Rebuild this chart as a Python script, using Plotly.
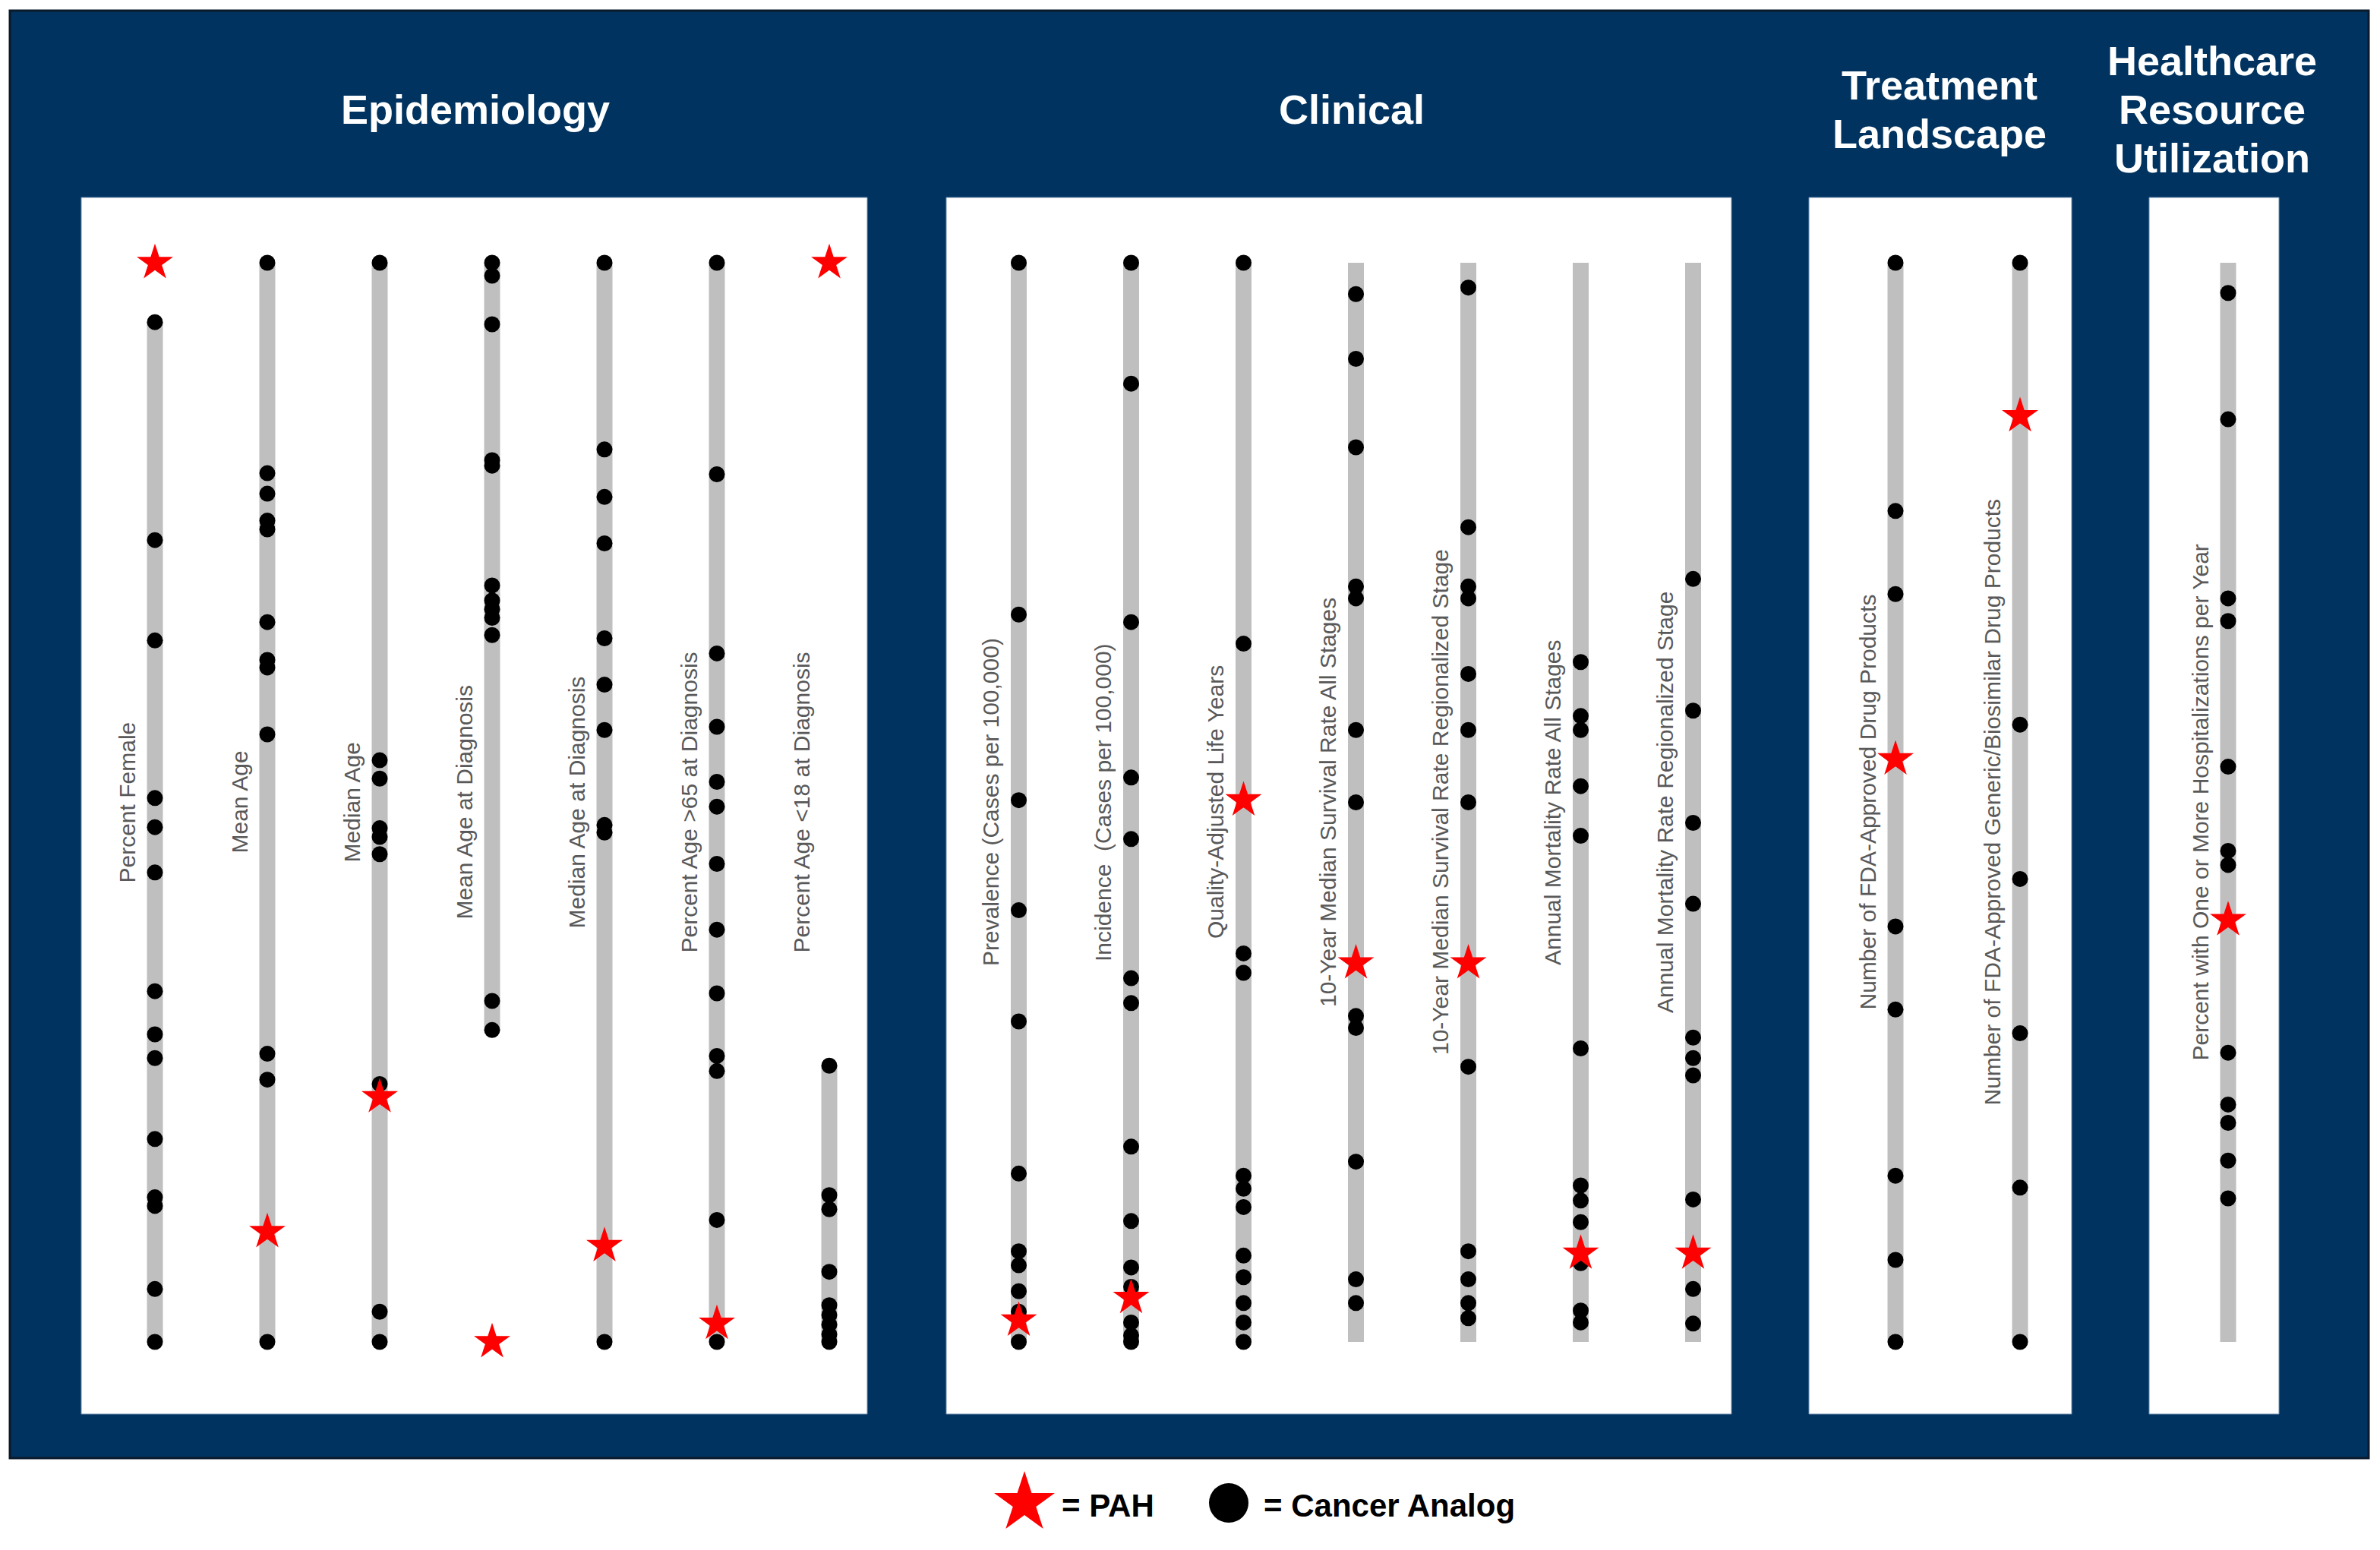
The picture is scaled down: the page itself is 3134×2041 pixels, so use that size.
import plotly.graph_objects as go

# ---------------- DATA (normalized position of each metric, 0 = bottom, 1 = top) ----------------
EPI_METRICS = [
    "Percent Female", "Mean Age", "Median Age", "Mean Age at Diagnosis",
    "Median Age at Diagnosis", "Percent Age >65 at Diagnosis", "Percent Age <18 at Diagnosis",
]
EPI_CANCER = [
    [0.945, 0.743, 0.650, 0.504, 0.477, 0.435, 0.325, 0.285, 0.263, 0.188, 0.134, 0.126, 0.049, 0.0],
    [1.0, 0.805, 0.786, 0.761, 0.753, 0.667, 0.632, 0.625, 0.563, 0.267, 0.243, 0.0],
    [1.0, 0.539, 0.522, 0.476, 0.468, 0.452, 0.239, 0.028, 0.0],
    [1.0, 0.988, 0.943, 0.817, 0.812, 0.701, 0.687, 0.679, 0.671, 0.655, 0.316, 0.289],
    [1.0, 0.827, 0.783, 0.740, 0.652, 0.609, 0.567, 0.479, 0.472, 0.0],
    [1.0, 0.804, 0.638, 0.570, 0.519, 0.496, 0.443, 0.382, 0.323, 0.265, 0.251, 0.113, 0.0],
    [0.256, 0.136, 0.123, 0.065, 0.034, 0.025, 0.016, 0.007, 0.0],
]
EPI_PAH = [1.0, 0.102, 0.227, 0.0, 0.089, 0.017, 1.0]

CLIN_METRICS = [
    "Prevalence (Cases per 100,000)", "Incidence \u00a0(Cases per 100,000)",
    "Quality-Adjusted Life Years", "10-Year Median Survival Rate All Stages",
    "10-Year Median Survival Rate Regionalized Stage", "Annual Mortality Rate All Stages",
    "Annual Mortality Rate Regionalized Stage",
]
CLIN_CANCER = [
    [1.0, 0.674, 0.502, 0.400, 0.297, 0.156, 0.084, 0.071, 0.047, 0.028, 0.0],
    [1.0, 0.888, 0.667, 0.523, 0.466, 0.337, 0.314, 0.181, 0.112, 0.069, 0.051, 0.018, 0.006, 0.0],
    [1.0, 0.647, 0.360, 0.342, 0.154, 0.142, 0.125, 0.080, 0.060, 0.036, 0.018, 0.0],
    [0.971, 0.911, 0.829, 0.700, 0.689, 0.567, 0.500, 0.302, 0.291, 0.167, 0.058, 0.036],
    [0.977, 0.755, 0.700, 0.689, 0.619, 0.567, 0.500, 0.255, 0.084, 0.058, 0.036, 0.022],
    [0.630, 0.580, 0.567, 0.515, 0.469, 0.272, 0.145, 0.131, 0.111, 0.073, 0.029, 0.018],
    [0.707, 0.585, 0.481, 0.406, 0.282, 0.263, 0.247, 0.132, 0.049, 0.017],
]
CLIN_PAH = [0.020, 0.041, 0.502, 0.351, 0.351, 0.082, 0.082]

TREAT_METRICS = [
    "Number of FDA-Approved Drug Products",
    "Number of FDA-Approved Generic/Biosimilar Drug Products",
]
TREAT_CANCER = [
    [1.0, 0.770, 0.693, 0.385, 0.308, 0.154, 0.076, 0.0],
    [1.0, 0.572, 0.429, 0.286, 0.143, 0.0],
]
TREAT_PAH = [0.540, 0.858]

HRU_METRICS = ["Percent with One or More Hospitalizations per Year"]
HRU_CANCER = [
    [0.972, 0.855, 0.689, 0.668, 0.533, 0.455, 0.442, 0.268, 0.220, 0.203, 0.168, 0.133],
]
HRU_PAH = [0.391]

PANEL_TITLES = [["Epidemiology"], ["Clinical"], ["Treatment", "Landscape"],
                ["Healthcare", "Resource", "Utilization"]]
LEGEND_LABELS = ["= PAH", "= Cancer Analog"]

# ---------------- LAYOUT / STYLE ----------------
PAGE_W, PAGE_H = 3134, 2041
OFF = 8                               # default page body margin
W, H = PAGE_W - 2 * OFF, PAGE_H - 2 * OFF
NAVY = "#00335F"
BAR_GREY = "#BFBFBF"
LABEL_GREY = "#595959"
STAR_RED = "#FF0000"
FONT = "Liberation Sans, Arial, sans-serif"


def px(x):
    return (x - OFF) / W


def py(y):
    return 1 - (y - OFF) / H


# pixel geometry of the chart (page pixels)
Y_TOP, Y_BOT = 346, 1767          # pixel rows of value 1 and value 0
PANEL_TOP, PANEL_BOT = 260, 1862
scale_y = Y_BOT - Y_TOP
y_range = [-(PANEL_BOT - Y_BOT) / scale_y, 1 + (Y_TOP - PANEL_TOP) / scale_y]

panels = [
    dict(metrics=EPI_METRICS, cancer=EPI_CANCER, pah=EPI_PAH, x0=107, x1=1142, c0=204, dx=148, full=False),
    dict(metrics=CLIN_METRICS, cancer=CLIN_CANCER, pah=CLIN_PAH, x0=1246, x1=2280, c0=1341.5, dx=148, full=True),
    dict(metrics=TREAT_METRICS, cancer=TREAT_CANCER, pah=TREAT_PAH, x0=2382, x1=2728, c0=2496, dx=164, full=True),
    dict(metrics=HRU_METRICS, cancer=HRU_CANCER, pah=HRU_PAH, x0=2830, x1=3001, c0=2934, dx=148, full=True),
]
title_x = [626, 1780, 2554, 2913]
title_rows = [[144], [144], [112, 176], [80, 144, 208]]

fig = go.Figure()
layout_axes = {}
annotations = []
shapes = [
    dict(type="rect", xref="paper", yref="paper", x0=px(13), x1=px(3119), y0=py(1920), y1=py(14),
         fillcolor=NAVY, line=dict(color="#0B1A2B", width=3), layer="below"),
]

for k, p in enumerate(panels):
    n = k + 1
    xa = "x" if n == 1 else f"x{n}"
    xkey = "xaxis" if n == 1 else f"xaxis{n}"
    layout_axes[xkey] = dict(
        domain=[px(p["x0"]), px(p["x1"])],
        range=[(p["x0"] - p["c0"]) / p["dx"], (p["x1"] - p["c0"]) / p["dx"]],
        visible=False, showgrid=False, zeroline=False, fixedrange=True, anchor="y",
    )
    shapes.append(dict(type="rect", xref=f"{xa} domain", yref="y domain", x0=0, x1=1, y0=0, y1=1,
                       fillcolor="white", line=dict(color="#6F8FB0", width=1), layer="below"))

    # grey range bars
    for i, vals in enumerate(p["cancer"]):
        lo, hi = (0.0, 1.0) if p["full"] else (min(vals), max(vals))
        fig.add_trace(go.Scatter(
            x=[i, i], y=[lo, hi], mode="lines", xaxis=xa, yaxis="y",
            line=dict(color=BAR_GREY, width=21), hoverinfo="skip", showlegend=False,
        ))
    # cancer analog dots
    xs, ys = [], []
    for i, vals in enumerate(p["cancer"]):
        xs += [i] * len(vals)
        ys += vals
    fig.add_trace(go.Scatter(
        x=xs, y=ys, mode="markers", xaxis=xa, yaxis="y", cliponaxis=False,
        marker=dict(symbol="circle", size=21, color="black", line=dict(width=0)),
        name="Cancer Analog", showlegend=False,
    ))
    # PAH stars
    fig.add_trace(go.Scatter(
        x=list(range(len(p["pah"]))), y=p["pah"], mode="markers", xaxis=xa, yaxis="y",
        cliponaxis=False,
        marker=dict(symbol="star", size=36, color=STAR_RED, line=dict(width=0)),
        name="PAH", showlegend=False,
    ))
    # metric labels
    for i, m in enumerate(p["metrics"]):
        annotations.append(dict(
            x=i, y=0.5, xref=xa, yref="y", text=m, textangle=-90, showarrow=False,
            xshift=-37, xanchor="center", yanchor="middle",
            font=dict(family=FONT, size=30, color=LABEL_GREY),
        ))
    # panel titles (one annotation per line)
    for line_text, ty in zip(PANEL_TITLES[k], title_rows[k]):
        annotations.append(dict(
            x=px(title_x[k]), y=py(ty), xref="paper", yref="paper", text=f"<b>{line_text}</b>",
            showarrow=False, xanchor="center", yanchor="middle", align="center",
            font=dict(family=FONT, size=54, color="white"),
        ))

# legend drawn on a pixel-space overlay axis
layout_axes["xaxis5"] = dict(domain=[0, 1], range=[OFF, OFF + W], visible=False, fixedrange=True, anchor="y2")
layout_axes["yaxis2"] = dict(domain=[0, 1], range=[OFF + H, OFF], visible=False, fixedrange=True, anchor="x5")
fig.add_trace(go.Scatter(x=[1349], y=[1979], mode="markers", xaxis="x5", yaxis="y2", cliponaxis=False,
                         marker=dict(symbol="star", size=60, color=STAR_RED, line=dict(width=0)),
                         showlegend=False, hoverinfo="skip"))
fig.add_trace(go.Scatter(x=[1618], y=[1979], mode="markers", xaxis="x5", yaxis="y2", cliponaxis=False,
                         marker=dict(symbol="circle", size=52, color="black", line=dict(width=0)),
                         showlegend=False, hoverinfo="skip"))
for lx, lab in zip([1396, 1662], LEGEND_LABELS):
    annotations.append(dict(
        x=px(lx), y=py(1982), xref="paper", yref="paper", text=f"<b>{lab}</b>", showarrow=False,
        xanchor="left", yanchor="middle", font=dict(family=FONT, size=42, color="black"),
    ))

fig.update_layout(
    width=W, height=H, margin=dict(l=0, r=0, t=0, b=0),
    paper_bgcolor="white", plot_bgcolor="rgba(0,0,0,0)",
    yaxis=dict(domain=[py(PANEL_BOT), py(PANEL_TOP)], range=y_range, visible=False,
               showgrid=False, zeroline=False, fixedrange=True, anchor="x"),
    shapes=shapes, annotations=annotations, showlegend=False,
    **layout_axes,
)

fig.write_html("out.html")
